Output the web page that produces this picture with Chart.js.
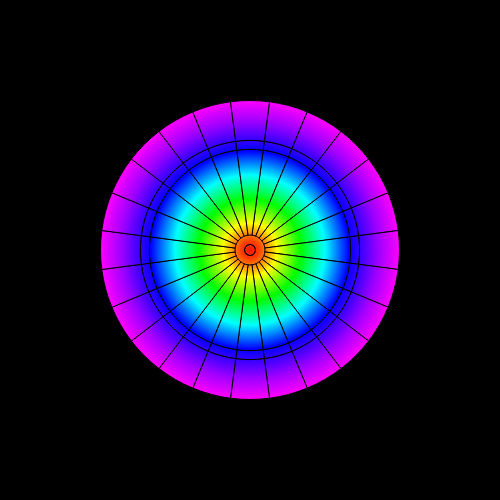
<!DOCTYPE html>
<html>
<head>
<meta charset="utf-8">
<script src="https://cdn.jsdelivr.net/npm/chart.js@4.4.1/dist/chart.umd.min.js"></script>
<style>
    html, body { margin: 0; padding: 0; background: #000; }
    #wrap { width: 500px; height: 500px; }
</style>
</head>
<body>
<div id="wrap"><canvas id="polarMesh"></canvas></div>
<script>
// ring edges (pixels from centre, outer to inner) and the 24 angular cells
const ringEdges = [150, 110, 101, 15, 6, 5, 0];
const ringCells = [24, 24, 24, 1, 1, 1];
const sectorValues = [1, 1, 1, 1, 1, 1, 1, 1, 1, 1, 1, 1, 1, 1, 1, 1, 1, 1, 1, 1, 1, 1, 1, 1];
// colour stops of the radial field (fraction of outer radius)
const stopPos = [0, 0.06, 0.1, 0.18, 0.34, 0.5, 0.66, 0.76, 0.86, 1];
const stopColors = ["#ff1000", "#ff4000", "#ff7a00", "#ffff00", "#00ff00", "#00ffff", "#0000ff", "#4a00ff", "#a000ff", "#ff00ff"];

function fieldGradient(context) {
    const chart = context.chart;
    const area = chart.chartArea;
    if (!area) return "#000";
    const cx = (area.left + area.right) / 2;
    const cy = (area.top + area.bottom) / 2;
    const R = Math.min(area.right - area.left, area.bottom - area.top) / 2;
    const g = chart.ctx.createRadialGradient(cx, cy, 0, cx, cy, R);
    stopPos.forEach((p, i) => g.addColorStop(p, stopColors[i]));
    return g;
}

const datasets = [];
for (let i = 0; i < ringCells.length; i++) {
    const isLine = ringEdges[i] === 6; // thin black circle
    datasets.push({
        data: ringCells[i] === 24 ? sectorValues : [1],
        weight: ringEdges[i] - ringEdges[i + 1],
        backgroundColor: isLine ? "#000" : fieldGradient,
        borderColor: "#000",
        borderWidth: ringCells[i] === 24 ? 1 : 0,
        hoverOffset: 0
    });
}

new Chart(document.querySelector("#polarMesh"), {
    type: "doughnut",
    data: {
        labels: sectorValues.map((v, i) => "s" + i),
        datasets: datasets
    },
    options: {
        responsive: true,
        maintainAspectRatio: false,
        animation: false,
        cutout: 0,
        rotation: 7.5,
        layout: { padding: 100 },
        plugins: {
            legend: { display: false },
            tooltip: { enabled: false }
        }
    }
});
</script>
</body>
</html>
